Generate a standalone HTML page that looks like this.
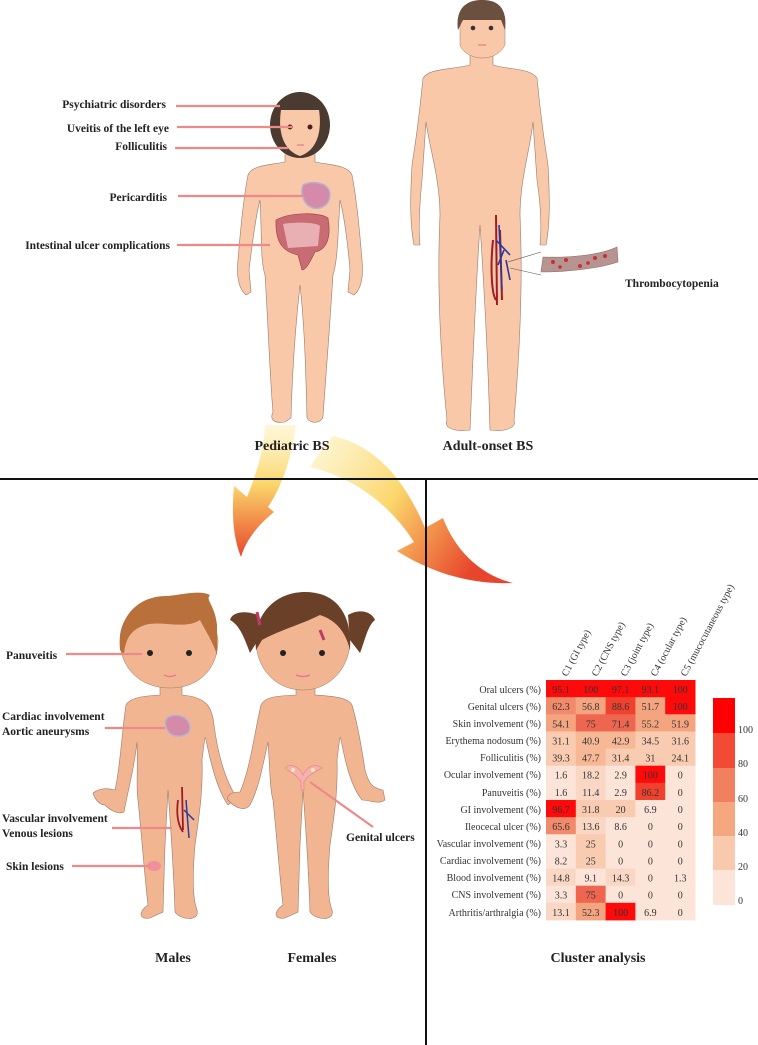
<!DOCTYPE html>
<html><head><meta charset="utf-8"><style>
html,body{margin:0;padding:0;background:#fff;}
svg{display:block;}
.l{font-family:"Liberation Serif",serif;font-weight:bold;font-size:11.5px;fill:#222;}
.t{font-family:"Liberation Serif",serif;font-weight:bold;font-size:14px;fill:#222;}
.h{font-family:"Liberation Serif",serif;font-size:10px;fill:#333;}
.c{font-family:"Liberation Serif",serif;font-size:10px;fill:#333;text-anchor:middle;}
.skin{fill:#f9c8a8;stroke:#9b7a6a;stroke-width:0.6;}
.kid{fill:#f2b592;stroke:#9b7a6a;stroke-width:0.6;}
.ln{stroke:#ec8a8a;stroke-width:2.2;}
</style></head><body>
<svg width="758" height="1045" viewBox="0 0 758 1045" xmlns="http://www.w3.org/2000/svg">
<defs>
<linearGradient id="g1" x1="0" y1="0" x2="0" y2="1"><stop offset="0" stop-color="#fdf3c0" stop-opacity="0.6"/><stop offset="0.45" stop-color="#fbd66a"/><stop offset="1" stop-color="#e8462c"/></linearGradient>
<linearGradient id="g2" x1="0" y1="0" x2="1" y2="0.5"><stop offset="0" stop-color="#fdf3c0" stop-opacity="0.6"/><stop offset="0.5" stop-color="#fbd66a"/><stop offset="1" stop-color="#e8462c"/></linearGradient>
</defs>

<!-- arrows -->
<path d="M265,425 L296,425 C292,455 283,485 268,507 L274,512 C258,525 246,540 241,557 C232,535 232,510 234,486 L247,497 C256,475 264,450 265,425 Z" fill="url(#g1)"/>
<path d="M333,436 C375,445 405,480 425,528 L443,518 C455,550 480,575 513,583 C470,585 430,572 397,551 L414,542 C390,505 355,478 310,467 C318,455 325,445 333,436 Z" fill="url(#g2)"/>

<!-- dividers -->
<line x1="0" y1="479" x2="758" y2="479" stroke="#111" stroke-width="2"/>
<line x1="426" y1="479" x2="426" y2="1045" stroke="#111" stroke-width="2"/>

<!-- Pediatric child -->
<path class="skin" d="M285,150 L285,162 C270,165 252,165 248,175 C243,200 240,235 238,260 C236,280 240,290 246,295 L251,292 L249,270 C252,245 256,215 260,200 C262,230 260,260 265,275 C268,320 270,380 273,412 C270,418 272,424 285,422 L291,418 C292,380 295,330 300,285 C305,330 306,380 307,418 C310,424 322,424 323,416 C326,380 330,320 333,275 C338,260 338,230 340,200 C344,215 348,245 350,270 L348,292 L354,295 C360,290 364,280 362,260 C360,235 357,200 352,175 C348,165 330,165 315,162 L315,150 Z"/>
<ellipse cx="300" cy="125" rx="30" ry="33" fill="#4a3a30"/>
<path d="M281,110 L319,110 C322,130 318,150 300,156 C282,150 278,130 281,110Z" fill="#f9c8a8"/>
<circle cx="290" cy="127" r="2.5" fill="#4a2020"/><circle cx="310" cy="127" r="2.5" fill="#4a2020"/>
<path d="M297,145 h7" stroke="#e88" stroke-width="1.5"/>
<path d="M276,220 C290,212 320,212 328,218 C332,240 325,250 315,252 C310,262 306,270 302,270 L298,255 C285,252 275,245 276,220Z" fill="#c96b72" stroke="#9a3b45" stroke-width="0.6"/>
<path d="M283,224 C295,222 315,222 320,226 L318,246 L288,248 Z" fill="#e9b0b4"/>
<path d="M303,185 C312,180 330,182 330,195 C330,205 320,210 313,208 C303,205 300,192 303,185Z" fill="#d48aa8" stroke="#b7b3d0" stroke-width="1.5"/>
<line class="ln" x1="176" y1="106" x2="280" y2="106"/>
<line class="ln" x1="177" y1="127" x2="292" y2="127"/>
<line class="ln" x1="175" y1="148" x2="288" y2="148"/>
<line class="ln" x1="178" y1="196" x2="303" y2="196"/>
<line class="ln" x1="177" y1="245" x2="270" y2="245"/>
<text class="l" x="166" y="108" text-anchor="end">Psychiatric disorders</text>
<text class="l" x="169" y="132" text-anchor="end">Uveitis of the left eye</text>
<text class="l" x="167" y="150" text-anchor="end">Folliculitis</text>
<text class="l" x="167" y="201" text-anchor="end">Pericarditis</text>
<text class="l" x="170" y="249" text-anchor="end">Intestinal ulcer complications</text>
<text class="t" x="292" y="450" text-anchor="middle">Pediatric BS</text>

<!-- Adult -->
<path class="skin" d="M470,52 L470,65 C450,70 430,68 423,78 C420,110 416,140 412,165 C410,200 410,225 414,245 L420,245 C418,225 420,200 422,180 L426,122 C430,150 440,180 440,215 C437,280 440,350 447,420 C443,428 455,432 470,430 C473,360 475,300 480,225 C485,300 488,360 490,430 C505,432 517,428 514,420 C520,350 523,280 520,215 C520,180 530,150 533,122 L537,180 C540,200 542,225 540,245 L546,245 C550,225 550,200 548,165 C544,140 540,110 537,78 C530,68 510,70 493,65 L493,52 Z"/>
<path d="M460,20 C460,0 505,0 505,20 L505,45 C500,55 490,58 482,58 C472,58 462,52 460,45Z" fill="#f9c8a8" stroke="#9b7a6a" stroke-width="0.5"/>
<path d="M458,30 C455,5 470,0 482,0 C495,0 508,5 505,30 L501,20 C490,20 470,20 463,20Z" fill="#6b5040"/>
<circle cx="473" cy="28" r="2.3" fill="#333"/><circle cx="491" cy="28" r="2.3" fill="#333"/>
<path d="M478,45 h8" stroke="#e88" stroke-width="1.5"/>
<path d="M496,215 L497,305 M493,240 C490,270 492,295 496,300 M500,230 L502,300" stroke="#a01c24" stroke-width="2" fill="none"/>
<path d="M499,225 L502,290 M496,240 L510,255 M504,250 L498,265 M506,260 L510,280" stroke="#2a3a9a" stroke-width="1.6" fill="none"/>
<path d="M508,262 L541,252 M510,268 L541,275" stroke="#555" stroke-width="0.6"/>
<path d="M543,257 C570,258 600,255 617,247 L618,262 C600,268 570,272 541,272 Z" fill="#b7948f" stroke="#8a6e6a" stroke-width="0.6"/>
<g fill="#c4303a"><circle cx="553" cy="262" r="2"/><circle cx="566" cy="260" r="2"/><circle cx="580" cy="266" r="2"/><circle cx="595" cy="258" r="2"/><circle cx="605" cy="256" r="2"/><circle cx="588" cy="263" r="1.8"/><circle cx="560" cy="267" r="1.8"/></g>
<text class="l" x="625" y="287">Thrombocytopenia</text>
<text class="t" x="488" y="450" text-anchor="middle">Adult-onset BS</text>

<!-- Boy -->
<path class="kid" d="M160,685 L160,695 C145,696 130,697 126,705 C122,730 120,770 115,790 C108,788 100,788 93,793 C95,800 100,805 105,805 C110,810 118,815 124,812 C128,790 134,770 137,742 C138,770 136,790 138,800 C142,840 145,880 148,905 C140,910 137,920 150,918 L163,912 L165,845 L168,790 C172,845 174,880 175,912 C180,920 200,922 197,910 C193,900 192,880 195,845 C200,810 203,790 202,760 C204,745 205,732 206,740 C210,760 217,790 228,805 L237,798 C225,780 218,755 214,725 C212,705 205,697 182,695 L182,685 Z"/>
<path d="M120,640 C120,610 150,594 172,597 C200,598 215,615 218,640 C218,668 200,688 170,688 C140,688 120,668 120,640Z" fill="#f2b592" stroke="#9b7a6a" stroke-width="0.5"/>
<path d="M120,650 C117,615 140,595 168,596 C185,594 200,590 210,595 C205,600 215,605 217,625 L217,655 C212,640 205,630 200,620 C185,630 160,620 145,625 C130,630 125,640 124,655Z" fill="#b9703a"/>
<circle cx="150" cy="653" r="3" fill="#222"/><circle cx="189" cy="653" r="3" fill="#222"/>
<path d="M164,675 Q170,678 176,675" stroke="#e79" stroke-width="1.5" fill="none"/>
<path d="M167,718 C175,712 190,716 190,728 C190,735 180,738 172,735 C165,730 164,722 167,718Z" fill="#d48aa8" stroke="#b7b3d0" stroke-width="1.5"/>
<path d="M182,787 L183,830 M178,800 C176,815 178,825 183,832" stroke="#a01c24" stroke-width="1.8" fill="none"/>
<path d="M186,800 L189,838 M184,810 L194,820" stroke="#2a3a9a" stroke-width="1.5" fill="none"/>
<ellipse cx="154" cy="866" rx="7" ry="5" fill="#f0909a"/>
<line class="ln" x1="66" y1="654" x2="142" y2="654"/>
<line class="ln" x1="105" y1="728" x2="165" y2="728"/>
<line class="ln" x1="112" y1="828" x2="172" y2="828"/>
<line class="ln" x1="72" y1="866" x2="150" y2="866"/>
<text class="l" x="6" y="659">Panuveitis</text>
<text class="l" x="2" y="720">Cardiac involvement</text>
<text class="l" x="2" y="735">Aortic aneurysms</text>
<text class="l" x="2" y="822">Vascular involvement</text>
<text class="l" x="2" y="837">Venous lesions</text>
<text class="l" x="6" y="870">Skin lesions</text>
<text class="t" x="173" y="962" text-anchor="middle">Males</text>

<!-- Girl -->
<path class="kid" d="M296,685 L296,695 C275,696 265,697 261,705 C255,730 250,770 240,792 C232,792 226,795 228,800 C235,808 245,812 250,805 C258,790 262,770 268,742 C270,770 270,790 273,800 C277,840 280,880 283,905 C275,910 272,920 285,918 L298,912 L300,845 L303,790 C307,845 309,880 310,912 C315,920 335,922 332,910 C328,900 327,880 330,845 C335,810 338,790 337,760 C339,745 340,732 341,740 C345,760 350,785 362,800 C370,800 378,805 385,800 L383,790 C370,788 368,780 365,770 C362,750 358,725 352,705 C348,697 330,696 315,695 L315,685 Z"/>
<path d="M256,640 C256,610 280,593 305,593 C335,593 350,615 350,640 C350,668 330,690 303,690 C275,690 256,668 256,640Z" fill="#f2b592" stroke="#9b7a6a" stroke-width="0.5"/>
<path d="M256,650 C252,615 275,592 305,592 C335,592 352,612 350,650 C345,630 335,620 320,615 C300,625 280,630 262,640 Z" fill="#6b4028"/>
<path d="M258,615 C245,610 232,612 230,620 C240,625 245,640 250,653 L258,640Z M348,615 C360,608 372,612 375,620 C368,625 365,640 360,653 L350,640Z" fill="#6b4028"/>
<path d="M257,612 L260,625 M320,630 L324,640" stroke="#c0396a" stroke-width="3"/>
<circle cx="283" cy="653" r="3" fill="#222"/><circle cx="322" cy="653" r="3" fill="#222"/>
<path d="M296,675 Q303,678 310,675" stroke="#e79" stroke-width="1.5" fill="none"/>
<path d="M285,768 C292,762 300,768 303,775 C306,768 314,762 322,768 C315,772 308,775 304,782 L304,790 L301,790 L301,782 C297,775 290,772 285,768Z" fill="#f5b0b0" stroke="#ec8a8a" stroke-width="0.8"/>
<circle cx="293" cy="770" r="2" fill="#fbe7b0"/><circle cx="313" cy="770" r="2" fill="#fbe7b0"/>
<line class="ln" x1="310" y1="782" x2="373" y2="827"/>
<text class="l" x="346" y="841">Genital ulcers</text>
<text class="t" x="312" y="962" text-anchor="middle">Females</text>

<!-- Heatmap -->
<g>
<text class="h" x="541" y="693" text-anchor="end">Oral ulcers (%)</text>
<text class="h" x="541" y="710" text-anchor="end">Genital ulcers (%)</text>
<text class="h" x="541" y="727" text-anchor="end">Skin involvement (%)</text>
<text class="h" x="541" y="744" text-anchor="end">Erythema nodosum (%)</text>
<text class="h" x="541" y="761" text-anchor="end">Folliculitis (%)</text>
<text class="h" x="541" y="778" text-anchor="end">Ocular involvement (%)</text>
<text class="h" x="541" y="796" text-anchor="end">Panuveitis (%)</text>
<text class="h" x="541" y="813" text-anchor="end">GI involvement (%)</text>
<text class="h" x="541" y="830" text-anchor="end">Ileocecal ulcer (%)</text>
<text class="h" x="541" y="847" text-anchor="end">Vascular involvement (%)</text>
<text class="h" x="541" y="864" text-anchor="end">Cardiac involvement (%)</text>
<text class="h" x="541" y="881" text-anchor="end">Blood involvement (%)</text>
<text class="h" x="541" y="898" text-anchor="end">CNS involvement (%)</text>
<text class="h" x="541" y="916" text-anchor="end">Arthritis/arthralgia (%)</text>
</g>
<g id="cells"></g>
<g class="h">
<text transform="translate(567,677) rotate(-62)">C1 (GI type)</text>
<text transform="translate(597,677) rotate(-62)">C2 (CNS type)</text>
<text transform="translate(626,677) rotate(-62)">C3 (joint type)</text>
<text transform="translate(656,677) rotate(-62)">C4 (ocular type)</text>
<text transform="translate(686,677) rotate(-62)">C5 (mucocutaneous type)</text>
</g>
<rect x="713" y="698" width="22" height="35" fill="#ff0000"/>
<rect x="713" y="733" width="22" height="35" fill="#f24a35"/>
<rect x="713" y="768" width="22" height="34" fill="#f0805f"/>
<rect x="713" y="802" width="22" height="34" fill="#f5a780"/>
<rect x="713" y="836" width="22" height="34" fill="#f9c9ae"/>
<rect x="713" y="870" width="22" height="35" fill="#fce4d8"/>
<g class="h"><text x="738" y="733">100</text><text x="738" y="767">80</text><text x="738" y="802">60</text><text x="738" y="836">40</text><text x="738" y="870">20</text><text x="738" y="904">0</text></g>
<text class="t" x="598" y="962" text-anchor="middle">Cluster analysis</text>
</svg>
<script>
var d=[[95.1,100,97.1,93.1,100],[62.3,56.8,88.6,51.7,100],[54.1,75,71.4,55.2,51.9],[31.1,40.9,42.9,34.5,31.6],[39.3,47.7,31.4,31,24.1],[1.6,18.2,2.9,100,0],[1.6,11.4,2.9,86.2,0],[96.7,31.8,20,6.9,0],[65.6,13.6,8.6,0,0],[3.3,25,0,0,0],[8.2,25,0,0,0],[14.8,9.1,14.3,0,1.3],[3.3,75,0,0,0],[13.1,52.3,100,6.9,0]];
function col(v){if(v>=90)return"#ff0a0a";if(v>=80)return"#f2402e";if(v>=70)return"#ee6650";if(v>=60)return"#f08a6a";if(v>=50)return"#f5a480";if(v>=40)return"#f6b895";if(v>=20)return"#f9cbb0";if(v>=10)return"#fad7c4";return"#fce4d8";}
var g=document.getElementById("cells"),s="";
for(var r=0;r<14;r++)for(var c=0;c<5;c++){var x=546+c*29.8,y=680+r*17.14,v=d[r][c];
s+='<rect x="'+x+'" y="'+y+'" width="30.3" height="17.6" fill="'+col(v)+'"/>';
s+='<text class="c" x="'+(x+15)+'" y="'+(y+13)+'">'+v+'</text>';}
g.innerHTML=s;
</script>
</body></html>
